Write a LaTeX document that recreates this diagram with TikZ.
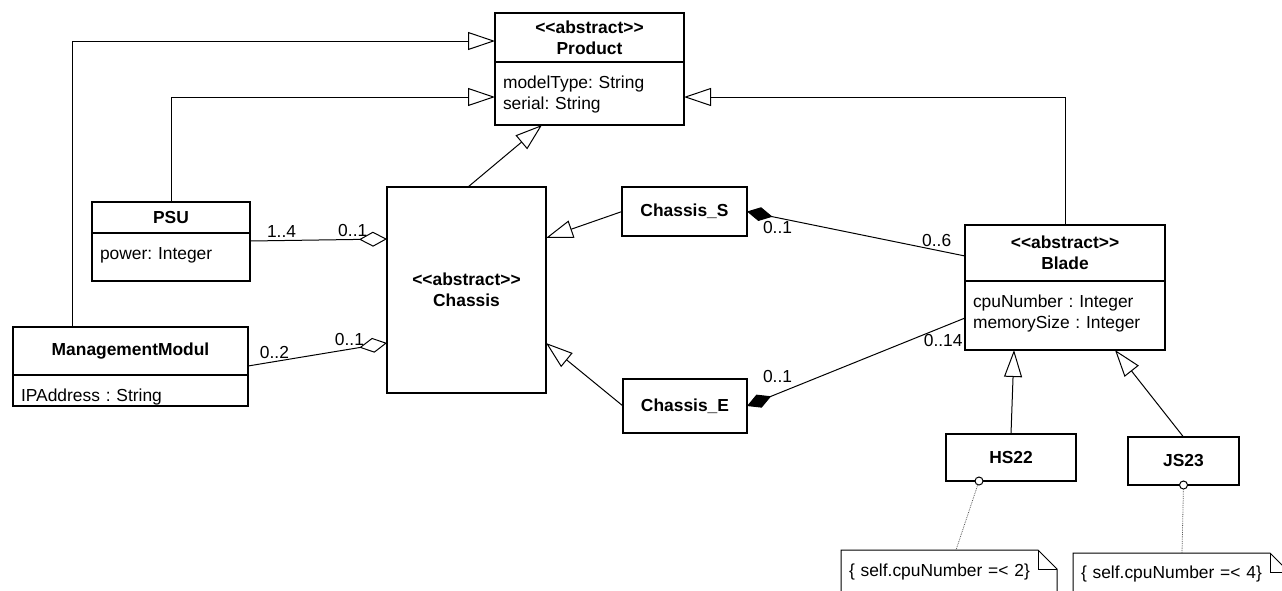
\documentclass[tikz,border=0pt]{standalone}
\usepackage{fontspec}
\setmainfont{Liberation Sans}
\usetikzlibrary{arrows.meta,positioning}
\usepackage{xcolor}
\definecolor{linkgray}{RGB}{90,90,90}
\frenchspacing

\newcommand{\stereo}[1]{\mbox{<}\mbox{<}#1\mbox{>}\mbox{>}}

\begin{document}
\begin{tikzpicture}[x=1pt,y=-1pt,line width=1pt,
    font=\fontsize{17.4}{21.5}\selectfont,
    >={Triangle[open,length=27pt,width=18pt]}]
  \tikzstyle{every node}=[outer sep=0pt]
  \tikzstyle{classname}=[draw,line width=1.3pt,font=\fontsize{17.4}{21}\selectfont\bfseries,align=center]
  \tikzstyle{classattr}=[draw,line width=1.3pt,align=left,inner xsep=8pt,inner ysep=0pt,text height=26pt]
  \tikzstyle{aggr}=[-{Diamond[open,length=28pt,width=15pt]}]
  \tikzstyle{compos}=[{Diamond[length=26pt,width=14pt]}-]
  \tikzstyle{umlnote}=[align=left,inner xsep=8pt,inner ysep=0pt]
  \tikzstyle{lollipop}=[circle,draw,fill=white,inner sep=0pt,minimum size=8pt]
  \tikzstyle{notelink}=[densely dotted,draw=linkgray,line width=0.8pt]

  \clip (0,0) rectangle (1282,590);
  \fill[white] (0,0) rectangle (1282,590);

  % classes
  \node[classname,minimum width=189pt,minimum height=49pt] (prod) at (589.5,37.5) {\stereo{abstract}\\Product};
  \node[classattr,text width=173pt,text depth=37pt,below=0pt of prod] (prodattr) {modelType: String\\serial: String};

  \node[classname,minimum width=158pt,minimum height=31pt] (psu) at (171,217.5) {PSU};
  \node[classattr,text width=142pt,text depth=22pt,below=0pt of psu] (psuattr) {power: Integer};

  \node[classname,minimum width=235pt,minimum height=48pt] (mm) at (130.5,351) {ManagementModul};
  \node[classattr,text width=219pt,text depth=5pt,below=0pt of mm] (mmattr) {IPAddress : String};

  \node[classname,minimum width=159pt,minimum height=206pt] (chassis) at (466.5,290) {\stereo{abstract}\\Chassis};
  \node[classname,minimum width=125pt,minimum height=49pt] (chs) at (684.5,211.5) {Chassis\_S};
  \node[classname,minimum width=124pt,minimum height=54pt] (che) at (685,406) {Chassis\_E};

  \node[classname,minimum width=200pt,minimum height=56pt] (blade) at (1065,253) {\stereo{abstract}\\Blade};
  \node[classattr,text width=184pt,text depth=43pt,below=0pt of blade] (bladeattr) {cpuNumber : Integer\\memorySize : Integer};

  \node[classname,minimum width=130pt,minimum height=47pt] (hs22) at (1011,457.5) {HS22};
  \node[classname,minimum width=111pt,minimum height=48pt] (js23) at (1183.5,461) {JS23};

  % constraints
  \node[umlnote,text width=200pt,text height=26pt,text depth=34pt,anchor=north west] (note1) at (841,550) {\{ self.cpuNumber =< 2\}};
  \node[umlnote,text width=200pt,text height=25pt,text depth=35pt,anchor=north west] (note2) at (1073,553) {\{ self.cpuNumber =< 4\}};
  \draw (note1.south west) -- (note1.north west) -- ([xshift=-19pt]note1.north east) -- ([yshift=-19pt]note1.north east) -- (note1.south east);
  \draw ([xshift=-19pt]note1.north east) |- ([yshift=-19pt]note1.north east);
  \draw (note2.south west) -- (note2.north west) -- ([xshift=-19pt]note2.north east) -- ([yshift=-19pt]note2.north east) -- (note2.south east);
  \draw ([xshift=-19pt]note2.north east) |- ([yshift=-19pt]note2.north east);

  \node[lollipop] (c1) at ([xshift=-32pt]hs22.south) {};
  \node[lollipop] (c2) at (js23.south) {};
  \draw[notelink] (c1) -- ([xshift=7pt]note1.north);
  \draw[notelink] (c2) -- ([xshift=1pt]note2.north);

  % generalisation
  \draw[->] ([xshift=-58.5pt]mm.north) |- ([yshift=-3.5pt]prod.west);
  \draw[->] (psu.north) |- ([yshift=-3.5pt]prodattr.west);
  \draw[->] (blade.north) |- ([yshift=-3.5pt]prodattr.east);
  \draw[->] ([xshift=1.5pt]chassis.north) -- ([xshift=-47.5pt]prodattr.south);
  \draw[->] (chs.west) -- ([yshift=52pt]chassis.east);
  \draw[->] (che.west) -- ([yshift=-53pt]chassis.east);
  \draw[->] (hs22.north) -- ([xshift=-51pt]bladeattr.south);
  \draw[->] (js23.north) -- ([xshift=50pt]bladeattr.south);

  % aggregation and composition
  \draw[aggr] ([yshift=-8pt]psuattr.north east) -- node[pos=0.23,above] {1..4} node[pos=0.75,above] {0..1} ([yshift=51pt]chassis.west);
  \draw[aggr] ([yshift=9pt]mm.south east) -- node[pos=0.19,above] {0..2} node[pos=0.73,above] {0..1} ([yshift=-53pt]chassis.west);
  \draw[compos] (chs.east) -- node[pos=0.14,below] {0..1} node[pos=0.87,above] {0..6} ([yshift=-3pt]blade.west);
  \draw[compos] (che.east) -- node[pos=0.14,above=8pt] {0..1} node[pos=0.9,below=4pt] {0..14} ([yshift=-2.5pt]bladeattr.west);
\end{tikzpicture}
\end{document}
